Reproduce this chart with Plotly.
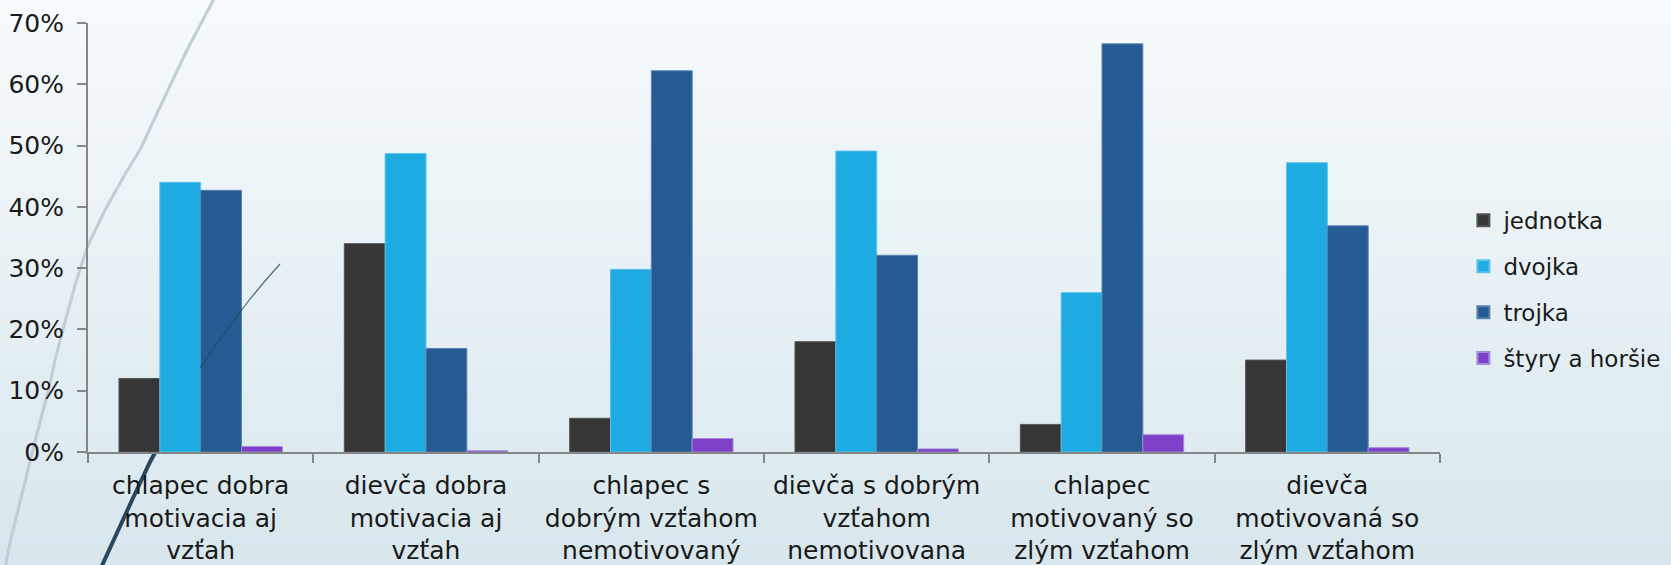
import plotly.graph_objects as go

categories = [
    "chlapec dobra<br>motivacia aj<br>vzťah",
    "dievča dobra<br>motivacia aj<br>vzťah",
    "chlapec s<br>dobrým vzťahom<br>nemotivovaný",
    "dievča s dobrým<br>vzťahom<br>nemotivovana",
    "chlapec<br>motivovaný so<br>zlým vzťahom",
    "dievča<br>motivovaná so<br>zlým vzťahom",
]
series_names = ["jednotka", "dvojka", "trojka", "štyry a horšie"]
jednotka = [0.120, 0.340, 0.055, 0.180, 0.045, 0.150]
dvojka = [0.440, 0.487, 0.298, 0.491, 0.260, 0.472]
trojka = [0.427, 0.169, 0.622, 0.321, 0.666, 0.369]
styri = [0.009, 0.002, 0.022, 0.005, 0.028, 0.007]
colors = ["#363636", "#1eabe2", "#255a92", "#7e3fc9"]
edge = ["#555555", "#5cc2ec", "#5a82b0", "#a58ad6"]

W, H = 1671, 565
L, R, T, B = 88, 1440, 23, 452

def px(x):
    return (x - L) / (R - L)

def py(y):
    return (B - y) / (B - T)

fig = go.Figure()
for name, vals, c, e in zip(series_names, [jednotka, dvojka, trojka, styri], colors, edge):
    fig.add_trace(go.Bar(
        x=categories, y=vals, name=name, legendgroup=name,
        marker=dict(color=c, line=dict(color=e, width=1)),
    ))

shapes = []
# background gradient (top near white to light blue-grey)
n = 60
top = (246, 250, 252)
bot = (216, 231, 237)
for i in range(n):
    f = i / (n - 1)
    col = tuple(round(top[k] + (bot[k] - top[k]) * f) for k in range(3))
    y0 = H * i / n
    y1 = H * (i + 1) / n + 1
    shapes.append(dict(type="rect", xref="paper", yref="paper", layer="below",
                       x0=px(-2), x1=px(W + 2), y0=py(y1), y1=py(y0 - 1),
                       fillcolor="rgb(%d,%d,%d)" % col, line=dict(width=0)))

def path(pts):
    s = "M %f,%f" % (px(pts[0][0]), py(pts[0][1]))
    for p in pts[1:]:
        s += " L %f,%f" % (px(p[0]), py(p[1]))
    return s

# decorative theme curves
light = [(215, -3), (187, 50), (160, 107), (141, 148), (124, 176), (105, 210), (88, 245),
         (76, 282), (66, 318), (56, 356), (48, 392), (40, 422), (32, 453), (25, 482),
         (18, 510), (11, 538), (5, 568)]
shapes.append(dict(type="path", xref="paper", yref="paper", layer="below", path=path(light),
                   line=dict(color="rgba(188,204,213,0.95)", width=3)))
thick = [(100, 570), (116, 535), (133, 498), (150, 462), (162, 440)]
shapes.append(dict(type="path", xref="paper", yref="paper", layer="below", path=path(thick),
                   line=dict(color="#284860", width=4)))
thin = [(200, 368), (215, 346), (232, 323), (250, 299), (265, 281), (280, 264)]
shapes.append(dict(type="path", xref="paper", yref="paper", layer="above", path=path(thin),
                   line=dict(color="rgba(40,72,96,0.8)", width=1.2)))

font = "DejaVu Sans"
fig.update_layout(
    width=W, height=H,
    margin=dict(l=L, r=W - R, t=T, b=H - B, autoexpand=False),
    paper_bgcolor="rgb(232,240,244)",
    plot_bgcolor="rgba(0,0,0,0)",
    barmode="group", bargap=0.275, bargroupgap=0,
    font=dict(family=font, color="#1a1a1a", size=24),
    shapes=shapes,
    showlegend=True,
    legend=dict(x=1.0173, xanchor="left", y=0.379, yanchor="middle",
                bgcolor="rgba(0,0,0,0)", font=dict(size=23, color="#1a1a1a"),
                traceorder="grouped", tracegroupgap=13, itemsizing="constant"),
)
fig.update_yaxes(range=[0, 0.7], dtick=0.1, tickformat=".0%", showgrid=False,
                 showline=True, linecolor="#868686", linewidth=2,
                 ticks="outside", ticklen=9, tickcolor="#868686", tickwidth=2,
                 ticklabelstandoff=8, automargin=False,
                 tickfont=dict(size=25), zeroline=False)
fig.update_xaxes(showgrid=False, showline=True, linecolor="#868686", linewidth=2,
                 ticks="outside", tickson="boundaries", ticklen=9,
                 ticklabelstandoff=10, tickangle=0, automargin=False,
                 tickcolor="#868686", tickwidth=2, tickfont=dict(size=25))

fig.write_html(
    "out.html",
    config={"displayModeBar": False},
    post_script="document.body.style.margin='0';document.body.style.overflow='hidden';",
)
